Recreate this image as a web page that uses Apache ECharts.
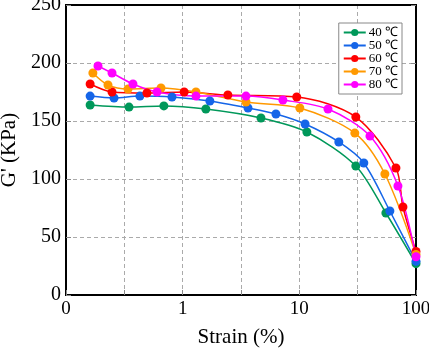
<!DOCTYPE html>
<html>
<head>
<meta charset="utf-8">
<script src="https://cdn.jsdelivr.net/npm/echarts@6/dist/echarts.min.js"></script>
<style>
html,body{margin:0;padding:0;background:#fff;}
#chart{width:429px;height:351px;}
</style>
</head>
<body>
<div id="chart"></div>
<script>
// strain (%) and G' (KPa)
var strain40 = [0.161, 0.347, 0.69, 1.58, 4.69, 11.6, 30.5, 55.2, 100];
var g40      = [163.8, 162, 163, 160.3, 152.6, 140.5, 111.2, 70.7, 27];

var strain50 = [0.161, 0.258, 0.43, 0.81, 1.71, 3.63, 6.3, 11.2, 21.8, 35.7, 59.7, 100];
var g50      = [171.5, 169.8, 171.5, 170.7, 167.2, 161.2, 156, 147.4, 131.9, 113.8, 72.4, 29];

var strain60 = [0.161, 0.248, 0.494, 1.03, 2.44, 9.5, 30.5, 67.3, 77.3, 100];
var g60      = [181.9, 175, 174.1, 175, 172.4, 170.7, 153.4, 109.5, 75.9, 37.5];

var strain70 = [0.170, 0.229, 0.34, 0.652, 1.30, 3.49, 10.1, 29.9, 54.1, 100];
var g70      = [191.4, 181, 177.6, 178.4, 175, 166.4, 161.2, 139.6, 104.3, 35];

var strain80 = [0.188, 0.248, 0.375, 0.603, 1.30, 3.49, 7.23, 17.6, 40.3, 70, 100];
var g80      = [197.4, 191.4, 181.9, 175, 171.5, 171.5, 168.1, 160.3, 137, 94, 33];

var names  = ['40 ℃', '50 ℃', '60 ℃', '70 ℃', '80 ℃'];
var colors = ['#00985a', '#1565e8', '#ff0000', '#ff9900', '#ff00ff'];

var strains = [strain40, strain50, strain60, strain70, strain80];
var gs      = [g40, g50, g60, g70, g80];

// x axis is log10(strain); label 0.1 as "0" like the original
var xTickLabels = {'-1': '0', '0': '1', '1': '10', '2': '100'};

var font = 'Liberation Serif';

var series = [];
for (var i = 0; i < names.length; i++) {
    var pts = [];
    for (var j = 0; j < strains[i].length; j++) {
        pts.push([Math.log10(strains[i][j]), gs[i][j]]);
    }
    series.push({
        name: names[i],
        type: 'line',
        smooth: 0.3,
        data: pts,
        symbol: 'circle',
        symbolSize: 9,
        color: colors[i],
        lineStyle: {width: 1.5, color: colors[i]},
        itemStyle: {color: colors[i]}
    });
}

var myChart = echarts.init(document.getElementById('chart'));
var option = {
    animation: false,
    grid: {
        left: 66, right: 13, top: 5, bottom: 56,
        outerBoundsMode: 'none',
        containLabel: false,
        show: true, borderColor: '#000', borderWidth: 2
    },
    legend: {
        data: names,
        orient: 'vertical',
        right: 27,
        top: 23,
        padding: [3, 4],
        itemGap: 0,
        itemWidth: 22,
        itemHeight: 9,
        backgroundColor: '#fff',
        borderColor: '#888',
        borderWidth: 1,
        borderRadius: 0,
        textStyle: {fontFamily: font, fontSize: 13, lineHeight: 11, color: '#000', padding: [0, 0, 0, -2]}
    },
    xAxis: [{
        type: 'value',
        min: -1, max: 2, interval: 0.5,
        name: 'Strain (%)',
        nameLocation: 'middle',
        nameGap: 32,
        nameTextStyle: {fontFamily: font, fontSize: 21, color: '#000'},
        axisLine: {onZero: false, lineStyle: {color: '#000', width: 2}},
        axisTick: {inside: true, length: 5, lineStyle: {color: '#888'}},
        axisLabel: {
            fontFamily: font, fontSize: 19, color: '#000', margin: 5,
            formatter: function (v) {
                return xTickLabels[String(v)] || '';
            }
        },
        splitLine: {show: true, lineStyle: {color: '#aaa', type: [4, 3]}}
    }, {
        type: 'value',
        min: -1, max: 2, interval: 0.5,
        position: 'top',
        axisLine: {show: true, onZero: false, lineStyle: {color: '#000', width: 2}},
        axisTick: {show: false},
        axisLabel: {show: false},
        splitLine: {show: false}
    }],
    yAxis: [{
        type: 'value',
        min: 0, max: 250, interval: 50,
        name: "G' (KPa)",
        nameLocation: 'middle',
        nameGap: 46,
        nameTextStyle: {fontFamily: font, fontSize: 21, color: '#000'},
        axisLine: {show: true, onZero: false, lineStyle: {color: '#000', width: 2}},
        axisTick: {show: true, inside: true, length: 5, lineStyle: {color: '#888'}},
        axisLabel: {fontFamily: font, fontSize: 20, color: '#000', margin: 5},
        splitLine: {show: true, lineStyle: {color: '#aaa', type: [4, 3]}}
    }, {
        type: 'value',
        min: 0, max: 250, interval: 50,
        position: 'right',
        axisLine: {show: true, onZero: false, lineStyle: {color: '#000', width: 2}},
        axisTick: {show: true, inside: true, length: 5, lineStyle: {color: '#888'}},
        axisLabel: {show: false},
        splitLine: {show: false}
    }],
    series: series
};
myChart.setOption(option);
</script>
</body>
</html>
